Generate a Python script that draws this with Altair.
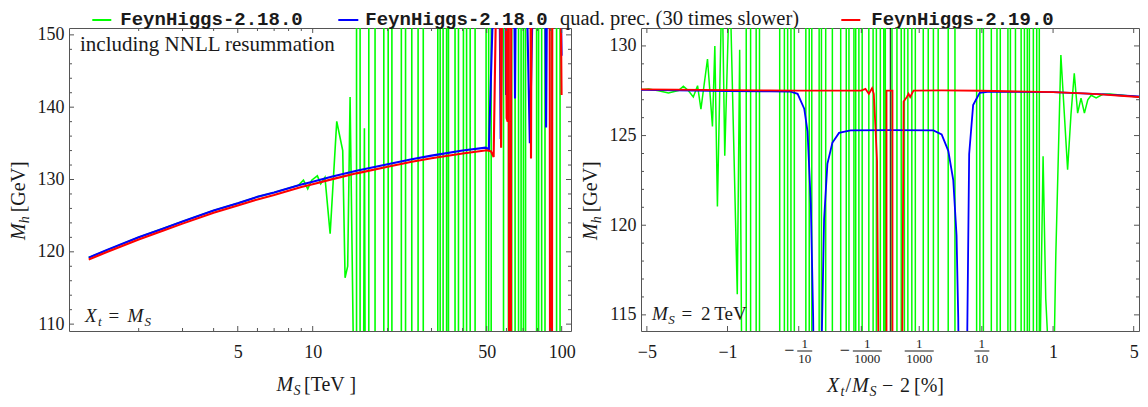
import altair as alt
import pandas as pd

SERIF = "Liberation Serif"
MONO = "Liberation Mono"
INK = "#1a1a1a"
FRAME = "#555555"
GREEN, BLUE, RED = "#00ff00", "#0000ff", "#ff0000"

HI, LO = 160, 100      # left panel: values beyond the plotted Mh range
HI2, LO2 = 134, 110    # right panel: values beyond the plotted Mh range

# ---------------- left panel: Mh [GeV] vs MS [TeV]  (Xt = MS) ----------------
l_blue_ms = [1.26, 1.5, 2, 2.5, 3, 4, 5, 6, 7, 8, 9, 10, 12, 15, 20, 25, 30, 40, 49.5, 51.0,
             53.6, 56.2, 56.9, 57.6, 59.3, 59.8, 60.3, 64.4, 64.95, 65.5,
             72.0, 74.5, 77.0, 85.8, 86.6, 87.4, 98.6, 99.9]
l_blue_mh = [119.2, 120.3, 122.0, 123.2, 124.2, 125.7, 126.7, 127.6, 128.2, 128.8,
             129.3, 129.7, 130.4, 131.2, 132.1, 132.8, 133.3, 134.0, 134.4, 134.2,
             HI, HI, 135.6, HI, HI, 141.7, HI, HI, 141.2, HI,
             HI, 135.0, HI, HI, 137.2, HI, HI, 147.1]

l_red_ms = [1.26, 1.5, 2, 2.5, 3, 4, 5, 6, 7, 8, 9, 10, 12, 15, 20, 25, 30, 40, 50.0, 52.0,
            53.3, 54.8, 56.5, 57.1, 57.7, 59.6, 60.1, 60.7, 61.1, 61.3,
            61.5, 62.5, 62.7, 74.9, 75.3, 75.7, 89.5, 89.8, 91.4, 91.7, 98.8, 99.9]
l_red_mh = [118.95, 120.0, 121.7, 122.9, 123.9, 125.4, 126.4, 127.25, 127.85, 128.45,
            128.95, 129.35, 130.05, 130.85, 131.75, 132.45, 132.95, 133.6, 134.05, 133.9,
            133.1, HI, HI, 134.4, HI, HI, 138.5, 138.0, HI, HI,
            LO, LO, HI, HI, 132.9, HI, HI, LO, LO, HI, HI, 141.7]

l_green_ms = [1.26, 2, 3, 4, 5, 6, 7, 8.0, 8.76, 9.18,
              9.55, 9.91, 10.44, 10.77, 11.2, 11.75, 12.49, 13.2, 13.49, 13.82,
              14.13, 14.65, 15.0, 15.0, 15.5, 15.5, 16.0, 16.13, 16.26, 16.8,
              16.8, 17.8, 17.8, 19.3, 19.3, 20.1, 20.1, 20.8, 20.8, 22.7,
              22.7, 23.6, 23.6, 25.0, 25.0, 26.5, 26.5, 27.8, 27.8, 31.8,
              31.8, 32.5, 32.5, 33.4, 33.4, 34.5, 34.5, 35.1, 35.1, 37.3,
              37.3, 38.5, 38.5, 40.3, 40.3, 41.5, 41.5, 42.9, 42.9, 44.9,
              44.9, 49.7, 49.7, 50.9, 50.9, 52.1, 52.1, 58.4, 58.4, 61.1,
              61.1, 63.0, 63.0, 65.0, 65.0, 67.1, 67.1, 68.7, 68.7, 70.2,
              70.2, 71.6, 71.6, 79.3, 79.3, 80.8, 80.8, 83.1, 83.1, 85.7,
              85.7, 91.3, 91.3, 95.4, 95.4, 98.5, 98.5]
l_green_mh = [119.2, 122.0, 124.2, 125.7, 126.7, 127.6, 128.2, 128.8, 129.2, 129.9,
              128.7, 129.9, 130.5, 129.4, 130.3, 122.5, 138.05, 134.0, 116.4, 118.0,
              141.4, LO, LO, HI, HI, LO, LO, 137.1, LO, LO,
              HI, HI, LO, LO, HI, HI, LO, LO, HI, HI,
              LO, LO, HI, HI, LO, LO, HI, HI, LO, LO,
              HI, HI, LO, LO, HI, HI, LO, LO, HI, HI,
              LO, LO, HI, HI, LO, LO, HI, HI, LO, LO,
              HI, HI, LO, LO, HI, HI, LO, LO, HI, HI,
              LO, LO, HI, HI, LO, LO, HI, HI, LO, LO,
              HI, HI, LO, LO, HI, HI, LO, LO, HI, HI,
              LO, LO, HI, HI, LO, LO, HI]

# ---------------- right panel: Mh [GeV] vs Xt/MS - 2 [%]  (MS = 2 TeV) ----------------
r_red_x = [-5.5, -3, -1, -0.3, -0.1, -0.01, -0.001, -0.00054, -0.0003, -0.000156,
           -0.000105, -0.0000435, -0.0000251, -0.00000029, -0.00000029, 0.000000032, 0.000000032,
           0.000026, 0.000045, 0.000108,
           0.000159, 0.000222, 0.000416, 0.01, 0.1, 1, 2, 3, 4, 5.45]
r_red_mh = [127.58, 127.56, 127.53, 127.52, 127.51, 127.51, 127.51, 127.6, 127.33, 127.64,
            127.33, 123.6, LO2, LO2, 127.51, 127.51, LO2,
            LO2, 126.9, 127.15,
            127.33, 127.15, 127.51, 127.52, 127.5, 127.42, 127.35, 127.28, 127.22, 127.15]

r_blue_x = [-5.5, -3, -1, -0.3, -0.14, -0.1051, -0.0781, -0.0668, -0.0568, -0.0504,
            -0.048, -0.033, -0.03145, -0.02733, -0.02227, -0.01603, -0.00984, -0.00355, 0, 0.00492,
            0.00991, 0.01613, 0.0224, 0.02747, 0.03035, 0.032, 0.048, 0.0498, 0.05515, 0.0671,
            0.091, 0.1387, 1, 3, 5.45]
r_blue_mh = [127.55, 127.52, 127.48, 127.46, 127.45, 127.33, 126.5, 125.24, 121.2, 114.87,
             LO2, LO2, 113.6, 120.33, 123.42, 124.6, 125.15, 125.29, 125.3, 125.29,
             125.06, 124.15, 122.51, 119.42, 114.87, LO2, LO2, 113.6, 123.97, 126.7,
             127.38, 127.45, 127.42, 127.3, 127.18]

r_green_x = [-5.5, -4.86, -4.11, -3.449, -2.871, -2.611, -2.37, -2.145, -1.965, -1.831,
             -1.59, -1.4245, -1.3496, -1.272, -1.14, -1.069, -0.946, -0.7805, -0.733, -0.6894,
             -0.6134, -0.6134, -0.5422, -0.5422, -0.4608, -0.4608, -0.4168, -0.4168, -0.2129, -0.2129,
             -0.1792, -0.1792, -0.158, -0.158, -0.1387, -0.1387, -0.1208, -0.1208, -0.0724, -0.0724,
             -0.0615, -0.0615, -0.0541, -0.0541, -0.03647, -0.03647, -0.032, -0.032, -0.02477, -0.02477,
             -0.01603, -0.01603, -0.00861, -0.00861, -0.00535, -0.00535, -0.004156, -0.004156, -0.00249, -0.00249,
             -0.002035, -0.002035, -0.001384, -0.001384, -0.00089, -0.00089, -0.000302, -0.000302, -0.000124, -0.000124,
             -0.0000532, -0.0000532, -0.0000139, -0.0000139, -0.00000264, -0.00000264, -0.000000866, -0.000000866,
             0.0000000117, 0.0000000117,
             0.0000028, 0.0000028, 0.0000203, 0.0000203, 0.0000565, 0.0000565, 0.000136, 0.000136, 0.000307, 0.000307,
             0.00056, 0.00056, 0.001685, 0.001685, 0.002953, 0.002953, 0.004924, 0.004924, 0.00749, 0.00749,
             0.01603, 0.01603, 0.02492, 0.02492, 0.07914, 0.07914, 0.09184, 0.09184, 0.107, 0.107,
             0.1484, 0.1484, 0.1846, 0.1846, 0.2084, 0.2084, 0.2727, 0.2727, 0.2965, 0.2965,
             0.3497, 0.3497, 0.4174, 0.4174, 0.4608, 0.4608, 0.5017, 0.5017, 0.5329, 0.5329,
             0.5966, 0.5966, 0.655, 0.655, 0.7025, 0.7025, 0.7764, 0.832, 0.9486, 1.0036,
             1.069, 1.206, 1.408, 1.518, 1.632, 1.755, 1.885, 2.023, 2.167, 2.319,
             2.557, 2.91, 3.298, 4.18, 5.45]
r_green_mh = [127.55, 127.6, 127.5, 127.38, 127.51, 127.75, 127.51, 127.15, 127.78, 126.48,
              129.27, 125.51, 130.0, 121.05, HI2, 123.87, HI2, 116.15, 129.78, LO2,
              LO2, HI2, HI2, LO2, LO2, HI2, HI2, LO2, LO2, HI2,
              HI2, LO2, LO2, HI2, HI2, LO2, LO2, HI2, HI2, LO2,
              LO2, HI2, HI2, LO2, LO2, HI2, HI2, LO2, LO2, HI2,
              HI2, LO2, LO2, HI2, HI2, LO2, LO2, HI2, HI2, LO2,
              LO2, HI2, HI2, LO2, LO2, HI2, HI2, LO2, LO2, HI2,
              HI2, LO2, LO2, HI2, HI2, LO2, LO2, HI2,
              HI2, LO2,
              LO2, HI2, HI2, LO2, LO2, HI2, HI2, LO2, LO2, HI2,
              HI2, LO2, LO2, HI2, HI2, LO2, LO2, HI2, HI2, LO2,
              LO2, HI2, HI2, LO2, LO2, HI2, HI2, LO2, LO2, HI2,
              HI2, LO2, LO2, HI2, HI2, LO2, LO2, HI2, HI2, LO2,
              LO2, HI2, HI2, LO2, LO2, HI2, HI2, LO2, LO2, HI2,
              HI2, LO2, LO2, HI2, HI2, LO2, 123.85, 115.9, LO2, LO2,
              118.3, 129.49, 123.1, 126.17, 128.47, 126.25, 127.09, 126.25, 127.0, 127.25,
              127.1, 127.3, 127.32, 127.25, 127.15]

# ---------------- ticks and labels ----------------
l_x_major = [5, 10, 50, 100]
l_x_minor = [2, 3, 4, 6, 7, 8, 9, 20, 30, 40, 60, 70, 80, 90]
l_y_major = [110, 120, 130, 140, 150]
l_y_minor = [112, 114, 116, 118, 122, 124, 126, 128, 132, 134, 136, 138, 142, 144, 146, 148]
r_x_major = [-5, -1, -0.1, -0.001, 0.001, 0.1, 1, 5]
r_x_int_labels = [-5, -1, 1, 5]
r_frac_vals = [-0.1, -0.001, 0.001, 0.1]
r_frac_nums = ["1", "1", "1", "1"]
r_frac_dens = ["10", "1000", "1000", "10"]
r_y_major = [115, 120, 125, 130]
r_y_minor = [116, 117, 118, 119, 121, 122, 123, 124, 126, 127, 128, 129]

W1, W2, H = 502, 498, 303

xl = alt.Scale(type="log", domain=[1.05, 109], nice=False)
yl = alt.Scale(domain=[109.05, 150.95], nice=False, zero=False)
xr = alt.Scale(type="pow", exponent=0.25, domain=[-5.5, 5.45], nice=False, zero=False)
yr = alt.Scale(domain=[114.1, 131.0], nice=False, zero=False)

ONE = pd.DataFrame({"k": [0]})


def axis(values, pad, fmt=None):
    kw = dict(values=values, title=None, labelPadding=pad, labelFlush=False, labelOverlap=False,
              ticks=False, domain=False, grid=False, labelFont=SERIF, labelFontSize=18,
              labelColor=INK)
    if fmt:
        kw["format"] = fmt
    return alt.Axis(**kw)


AX_LX = axis(l_x_major, 12, "d")
AX_LY = axis(l_y_major, 5)
AX_RX = axis(r_x_int_labels, 12, "d")
AX_RY = axis(r_y_major, 5)


def line(xs, ys, color, width, sx, sy, xaxis, yaxis):
    df = pd.DataFrame({"x": xs, "y": ys, "i": list(range(len(xs)))})
    return alt.Chart(df).mark_line(color=color, strokeWidth=width, clip=True).encode(
        x=alt.X("x:Q", scale=sx, axis=xaxis),
        y=alt.Y("y:Q", scale=sy, axis=yaxis),
        order=alt.Order("i:Q"),
    )


def ticks(values, ch, scale, ax, side, length, w):
    df = pd.DataFrame({"v": values})
    m = alt.Chart(df).mark_rule(color=FRAME, strokeWidth=1)
    if ch == "x":
        pos = alt.X("v:Q", scale=scale, axis=ax)
        if side == "bottom":
            return m.encode(x=pos, y=alt.value(H), y2=alt.value(H - length))
        return m.encode(x=pos, y=alt.value(0), y2=alt.value(length))
    pos = alt.Y("v:Q", scale=scale, axis=ax)
    if side == "left":
        return m.encode(y=pos, x=alt.value(0), x2=alt.value(length))
    return m.encode(y=pos, x=alt.value(w), x2=alt.value(w - length))


def txt(s, x, y, size=19, italic=False, angle=None, font=SERIF, bold=False, color=INK):
    kw = dict(text=s, font=font, fontSize=size, color=color, align="left", baseline="alphabetic")
    if italic:
        kw["fontStyle"] = "italic"
    if bold:
        kw["fontWeight"] = "bold"
    if angle is not None:
        kw["angle"] = angle
    return alt.Chart(ONE).mark_text(**kw).encode(x=alt.value(x), y=alt.value(y))


def seg(x1, x2, y, color):
    return alt.Chart(ONE).mark_rule(color=color, strokeWidth=2).encode(
        x=alt.value(x1), x2=alt.value(x2), y=alt.value(y))


def frame_ticks(xmaj, xmin, ymaj, ymin, sx, sy, axx, axy, w):
    out = []
    for side in ("bottom", "top"):
        out.append(ticks(xmaj, "x", sx, axx, side, 5, w))
        if xmin:
            out.append(ticks(xmin, "x", sx, axx, side, 3, w))
    for side in ("left", "right"):
        out.append(ticks(ymaj, "y", sy, axy, side, 5, w))
        out.append(ticks(ymin, "y", sy, axy, side, 3, w))
    return out


def ytitle(x):
    return [
        txt("M", x, 212, size=20, italic=True, angle=270),
        txt("h", x + 4, 195.3, size=14, italic=True, angle=270),
        txt("[GeV]", x, 184.3, size=20, angle=270),
    ]


# ---------------- left chart ----------------
left_layers = [
    line(l_green_ms, l_green_mh, GREEN, 1.6, xl, yl, AX_LX, AX_LY),
    line(l_blue_ms, l_blue_mh, BLUE, 2.1, xl, yl, AX_LX, AX_LY),
    line(l_red_ms, l_red_mh, RED, 2.1, xl, yl, AX_LX, AX_LY),
]
left_layers += frame_ticks(l_x_major, l_x_minor, l_y_major, l_y_minor, xl, yl, AX_LX, AX_LY, W1)
left_layers += [
    txt("including NNLL resummation", 11, 23, size=21),
    txt("X", 16, H - 9, size=19, italic=True),
    txt("t", 29, H - 5.5, size=13, italic=True),
    txt("=", 39.5, H - 9, size=19),
    txt("M", 58.5, H - 9, size=19, italic=True),
    txt("S", 75.5, H - 5.5, size=13, italic=True),
    # x-axis title
    txt("M", 207.6, H + 60, size=20, italic=True),
    txt("S", 224.5, H + 64, size=14, italic=True),
    txt("[TeV ]", 235, H + 60, size=20),
]
left_layers += ytitle(-44)
# legend (above the panels)
left_layers += [
    seg(23.3, 42.3, -8, GREEN),
    txt("FeynHiggs-2.18.0", 51.3, -3.5, size=19, font=MONO, bold=True),
    seg(269.3, 289.3, -8, BLUE),
    txt("FeynHiggs-2.18.0", 296.3, -3.5, size=19, font=MONO, bold=True),
    txt("quad. prec. (30 times slower)", 491, -3.5, size=20.5),
    seg(772.3, 791.3, -8, RED),
    txt("FeynHiggs-2.19.0", 802.3, -3.5, size=19, font=MONO, bold=True),
]
left = alt.layer(*left_layers).properties(width=W1, height=H)

# ---------------- right chart ----------------
zero_df = pd.DataFrame({"x": [0]})
right_layers = [
    alt.Chart(zero_df).mark_rule(color="black", strokeWidth=1).encode(
        x=alt.X("x:Q", scale=xr, axis=AX_RX)),
    line(r_green_x, r_green_mh, GREEN, 1.5, xr, yr, AX_RX, AX_RY),
    line(r_blue_x, r_blue_mh, BLUE, 1.8, xr, yr, AX_RX, AX_RY),
    line(r_red_x, r_red_mh, RED, 1.8, xr, yr, AX_RX, AX_RY),
]
right_layers += frame_ticks(r_x_major, None, r_y_major, r_y_minor, xr, yr, AX_RX, AX_RY, W2)

for v, num, den in zip(r_frac_vals, r_frac_nums, r_frac_dens):
    df = pd.DataFrame({"v": [v]})
    half = 7.5 if len(den) <= 2 else 14.5
    sh = 6 if v < 0 else 0
    xp = alt.X("v:Q", scale=xr, axis=AX_RX)
    base = alt.Chart(df)
    right_layers += [
        base.mark_text(text=num, dx=sh, font=SERIF, fontSize=13, color=INK, align="center",
                       baseline="alphabetic").encode(x=xp, y=alt.value(H + 17)),
        base.mark_rule(color=INK, strokeWidth=1, xOffset=sh - half, x2Offset=sh + half).encode(
            x=xp, x2=alt.X2("v"), y=alt.value(H + 20)),
        base.mark_text(text=den, dx=sh, font=SERIF, fontSize=13, color=INK, align="center",
                       baseline="alphabetic").encode(x=xp, y=alt.value(H + 32)),
    ]
    if v < 0:
        right_layers.append(
            base.mark_text(text="\u2212", dx=sh - half - 8, font=SERIF, fontSize=18, color=INK,
                           align="center", baseline="alphabetic").encode(x=xp, y=alt.value(H + 25)))

right_layers += [
    txt("M", 11, H - 10.7, size=19, italic=True),
    txt("S", 27.3, H - 7.2, size=13, italic=True),
    txt("=", 40.5, H - 10.7, size=19),
    txt("2\u2009TeV", 60, H - 10.7, size=19),
    # x-axis title
    txt("X", 186, H + 61, size=20, italic=True),
    txt("t", 199.5, H + 65, size=14, italic=True),
    txt("/", 204.5, H + 61, size=20),
    txt("M", 211, H + 61, size=20, italic=True),
    txt("S", 228.5, H + 65, size=14, italic=True),
    txt("\u2212", 241, H + 61, size=20),
    txt("2", 259, H + 61, size=20),
    txt("[%]", 273, H + 61, size=20),
]
right_layers += ytitle(-44)
right = alt.layer(*right_layers).properties(width=W2, height=H)

chart = alt.hconcat(left, right, spacing=70, bounds="flush", padding=0).configure(
    background="white"
).configure_view(stroke=FRAME, strokeWidth=1)

chart.save("out.html", embed_options={"renderer": "svg", "actions": False})
